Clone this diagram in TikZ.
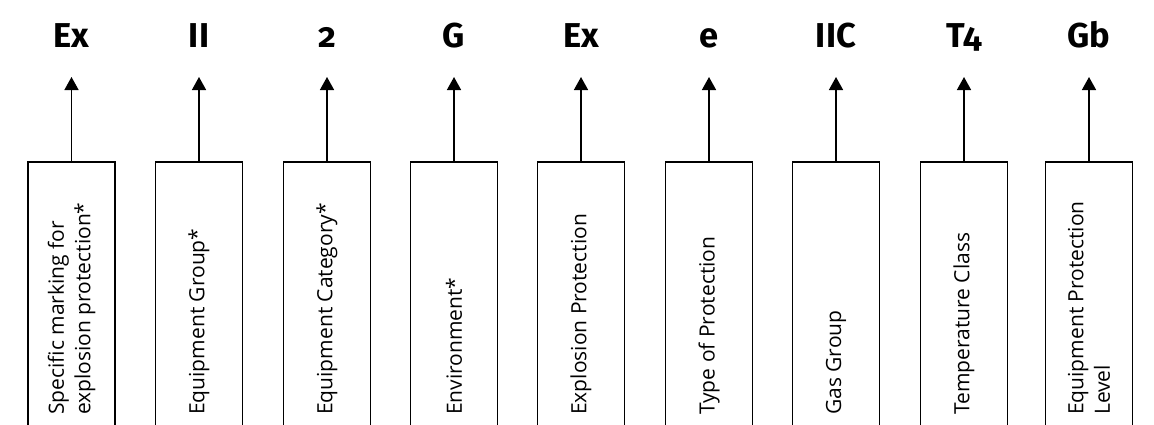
\documentclass[tikz,border=0pt]{standalone}
\usepackage{fontspec}
\setmainfont{Open Sans}
\newfontfamily\labfont[Numbers=OldStyle]{Fira Sans}
\newfontfamily\bxfamily{Open Sans}
\newcommand\bxfont{\bxfamily\fontsize{21}{26.5}\selectfont}
\usetikzlibrary{arrows.meta}
\begin{document}
\begin{tikzpicture}[x=1pt,y=1pt,
  boxnode/.style={draw, line width=1.5pt, minimum width=87pt, minimum height=300pt, anchor=north, inner sep=0pt},
  boxtext/.style={rotate=90, anchor=west, inner sep=0pt, align=left, font=\bxfont},
  toplabel/.style={anchor=base, inner sep=0pt, font=\labfont\bfseries\fontsize{34.5}{40}\selectfont},
  arr/.style={line width=1.5pt, -{Triangle[width=14pt,length=13pt]}}]
\useasboundingbox (0,0) rectangle (1154,-424);
\clip (0,0) rectangle (1154,-424);
\foreach \i/\cx/\lab/\txt in {
  1/71.5/Ex/{Specific marking for\\explosion protection*},
  2/199/II/{Equipment Group*},
  3/327/2/{Equipment Category*},
  4/454/G/{Environment*},
  5/581/Ex/{Explosion Protection},
  6/709/e/{Type of Protection},
  7/836/IIC/{Gas Group},
  8/964/T4/{Temperature Class},
  9/1089/Gb/{Equipment Protection\\Level}} {
  \node[boxnode] (b\i) at (\cx,-161) {};
  \node[boxtext] (t\i) at (\cx,-415) {\txt};
  \node[toplabel] (l\i) at (\cx,-47) {\lab};
  \coordinate (a\i) at (\cx,-77);
  \draw[arr] (b\i.north) -- (a\i);
}
\end{tikzpicture}
\end{document}
